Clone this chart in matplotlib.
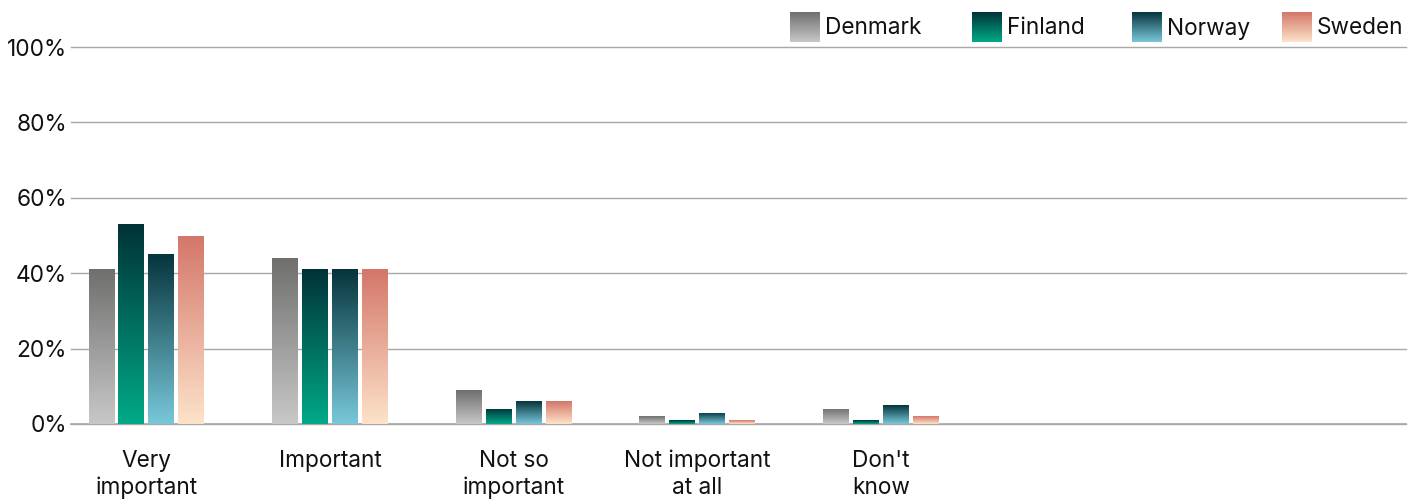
import numpy as np
import matplotlib
matplotlib.use("Agg")
import matplotlib.pyplot as plt
from matplotlib.colors import LinearSegmentedColormap

plt.rcParams['font.family'] = ['Inter', 'DejaVu Sans']

categories = ["Very\nimportant", "Important", "Not so\nimportant", "Not important\nat all", "Don't\nknow"]
countries = ["Denmark", "Finland", "Norway", "Sweden"]
denmark = [41, 44, 9, 2, 4]
finland = [53, 41, 4, 1, 1]
norway = [45, 41, 6, 3, 5]
sweden = [50, 41, 6, 1, 2]
series = [denmark, finland, norway, sweden]
yticks = [0, 20, 40, 60, 80, 100]
ytick_labels = ["0%", "20%", "40%", "60%", "80%", "100%"]

# (top colour, bottom colour) of each gradient
grad_colors = [("#6f6f6e", "#c8c8c8"),
               ("#003238", "#00aa88"),
               ("#06343c", "#78c8da"),
               ("#d4766a", "#fde3c9")]

W, H = 1422, 501
FS = 16.3
fig = plt.figure(figsize=(W / 100, H / 100), dpi=100)
ax = fig.add_axes([71 / W, 1 - 424 / H, (1406 - 71) / W, (424 - 47) / H])

x = np.arange(len(categories))
width = 0.14
step = 0.163
grad = np.linspace(0, 1, 256).reshape(-1, 1)

for i, (vals, (top, bot)) in enumerate(zip(series, grad_colors)):
    cmap = LinearSegmentedColormap.from_list(f"c{i}", [bot, top])
    bars = ax.bar(x + (i - 1.5) * step, vals, width, color="none", edgecolor="none", zorder=3)
    for b in bars:
        x0, y0 = b.get_x(), b.get_y()
        im = ax.imshow(grad, cmap=cmap, origin="lower", aspect="auto",
                       extent=(x0, x0 + b.get_width(), y0, y0 + b.get_height()),
                       zorder=3, interpolation="bilinear")
        im.set_clip_path(b)

ax.set_xlim(-0.41, 6.86)
ax.set_ylim(0, 100)
ax.set_yticks(yticks)
ax.set_yticklabels(ytick_labels)
ax.set_xticks(x)
ax.set_xticklabels(categories, linespacing=1.3)
ax.tick_params(axis="both", length=0, labelsize=FS, colors="#111111")
ax.tick_params(axis="y", pad=3)
ax.tick_params(axis="x", pad=18.5)
ax.yaxis.grid(True, color="#a8a8a8", linewidth=1.0, zorder=0)
for gl in ax.get_ygridlines():
    gl.set_clip_on(False)
ax.axhline(0, color="#a8a8a8", linewidth=1.2, zorder=2, clip_on=False)
ax.set_axisbelow(True)
for s in ax.spines.values():
    s.set_visible(False)

# Legend with gradient swatches
leg_x = [790, 972, 1132, 1282]
for name, (top, bot), lx in zip(countries, grad_colors, leg_x):
    cmap = LinearSegmentedColormap.from_list(name, [bot, top])
    lax = fig.add_axes([lx / W, 1 - 42 / H, 30 / W, 30 / H])
    lax.imshow(grad, cmap=cmap, origin="lower", aspect="auto", interpolation="bilinear")
    lax.axis("off")
    fig.text((lx + 35) / W, 1 - 28.5 / H, name, fontsize=FS, va="center", ha="left", color="#111111")

fig.savefig("out.png", dpi=100)
